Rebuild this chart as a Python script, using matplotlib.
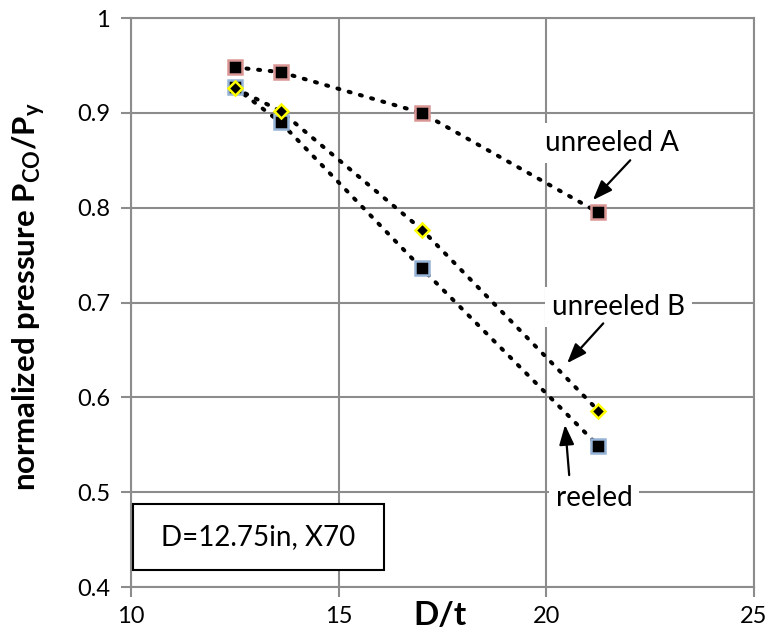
import matplotlib
matplotlib.use('Agg')
import matplotlib.pyplot as plt
import matplotlib.patches as mpatches

plt.rcParams['font.family'] = ['Lato', 'DejaVu Sans']

# data
dt = [12.5, 13.6, 17.0, 21.25]
unreeled_a = [0.948, 0.943, 0.900, 0.795]
unreeled_b = [0.926, 0.902, 0.777, 0.586]
reeled = [0.927, 0.890, 0.736, 0.549]

xticks = [10, 15, 20, 25]
yticks = [0.4, 0.5, 0.6, 0.7, 0.8, 0.9, 1.0]
ytick_labels = ['0.4', '0.5', '0.6', '0.7', '0.8', '0.9', '1']

grid_c = '#8c8c8c'

fig = plt.figure(figsize=(7.69, 6.44), dpi=100)
ax = fig.add_axes([0.1704, 0.0885, 0.8101, 0.8835])
ax.set_xlim(10, 25)
ax.set_ylim(0.4, 1.0)
ax.set_xticks(xticks)
ax.set_yticks(yticks)
ax.set_yticklabels(ytick_labels)
ax.grid(True, color=grid_c, lw=1.5, zorder=0)
for s in ['left', 'bottom', 'right', 'top']:
    ax.spines[s].set_color(grid_c)
    ax.spines[s].set_linewidth(1.5)
ax.tick_params(direction='out', length=7, width=1.5, color=grid_c,
               labelsize=17, pad=8)
ax.tick_params(axis='x', pad=7)

dots = dict(ls=(0, (0.5, 2.4)), lw=2.9, color='black', dash_capstyle='round', zorder=3)
ax.plot(dt, unreeled_a, **dots)
ax.plot(dt, reeled, **dots)
ax.plot(dt, unreeled_b, **dots)

ax.plot(dt, unreeled_a, 's', ms=10, mfc='black', mec='#d99694', mew=1.8, zorder=4)
ax.plot(dt, reeled, 's', ms=10, mfc='black', mec='#95b3d7', mew=1.8, zorder=4)
ax.plot(dt, unreeled_b, 'D', ms=7, mfc='black', mec='#ffff00', mew=1.8, zorder=5)

ax.set_xlabel('D/t', fontsize=24, fontweight='bold')
ax.set_ylabel('normalized pressure P$_{\\mathregular{CO}}$/P$_{\\mathregular{y}}$',
              fontsize=22.5, fontweight='bold')
ax.xaxis.set_label_coords(0.496, -0.025)
ax.yaxis.set_label_coords(-0.135, 0.51)

bb = dict(boxstyle='square,pad=0.25', fc='white', ec='none')
arr = dict(arrowstyle='-|>,head_length=1.2,head_width=0.45', color='black', lw=1.6,
           shrinkA=0, shrinkB=0)

ax.annotate('', xy=(21.12, 0.808), xytext=(22.02, 0.850), arrowprops=arr, zorder=6)
ax.text(21.58, 0.868, 'unreeled A', ha='center', va='center', fontsize=20, bbox=bb, zorder=2)

ax.annotate('', xy=(20.50, 0.636), xytext=(21.37, 0.678), arrowprops=arr, zorder=6)
ax.text(21.73, 0.695, 'unreeled B', ha='center', va='center', fontsize=20, bbox=bb, zorder=2)

ax.annotate('', xy=(20.45, 0.571), xytext=(20.55, 0.518), arrowprops=arr, zorder=6)
ax.text(21.15, 0.494, 'reeled', ha='center', va='center', fontsize=20, bbox=bb, zorder=2)

ax.add_patch(mpatches.Rectangle((10.05, 0.418), 6.04, 0.070, fc='white', ec='black',
                                lw=1.5, zorder=6))
ax.text(13.07, 0.453, 'D=12.75in, X70', ha='center', va='center', fontsize=20, zorder=7)

fig.savefig('out.png', dpi=100, facecolor='white')
plt.close()
